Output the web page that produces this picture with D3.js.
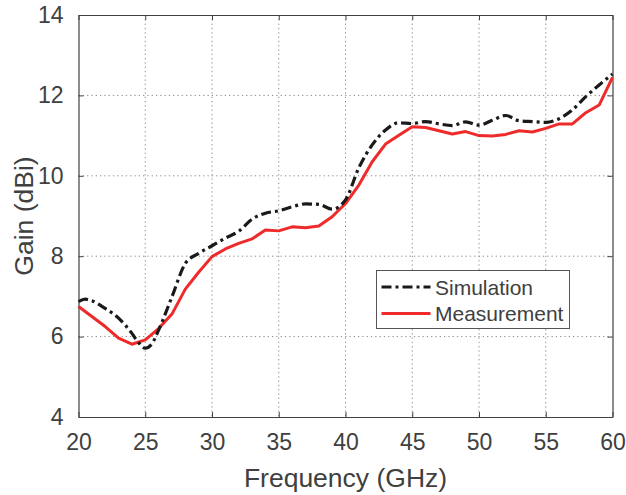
<!DOCTYPE html>
<html>
<head>
<meta charset="utf-8">
<script src="https://cdn.jsdelivr.net/npm/d3@7"></script>
<style>
  body { margin: 0; background: #fff; }
  text { font-family: "Liberation Sans", Arial, sans-serif; fill: #404040; }
</style>
</head>
<body>
<div id="chart"></div>
<script>
const svgWidth = 626;
const svgHeight = 495;

const margin = {top: 15, right: 13.5, bottom: 78, left: 78.5};
const width = svgWidth - margin.left - margin.right;
const height = svgHeight - margin.top - margin.bottom;

// data
const simFreq = [20, 20.5, 21, 22, 23, 24, 24.5, 25, 25.5, 26, 27, 28, 29, 30, 31, 32, 33, 34, 35, 36, 37, 38, 39, 40,
  41, 42, 43, 44, 45, 46, 47, 48, 49, 50, 51, 52, 53, 54, 55, 56, 57, 58, 59, 60];
const simGain = [6.87, 6.93, 6.89, 6.70, 6.46, 6.08, 5.85, 5.71, 5.82, 6.16, 6.99, 7.82, 8.07, 8.26, 8.45, 8.62, 8.92, 9.07, 9.13, 9.23, 9.30, 9.29, 9.17, 9.40,
  10.2, 10.77, 11.14, 11.32, 11.3, 11.35, 11.29, 11.25, 11.34, 11.26, 11.38, 11.5, 11.37, 11.35, 11.33, 11.42, 11.64, 11.97, 12.26, 12.53];

const measFreq = [20, 21, 22, 23, 24, 25, 26, 27, 28, 29, 30, 31, 32, 33, 34, 35, 36, 37, 38, 39, 40,
  41, 42, 43, 44, 45, 46, 47, 48, 49, 50, 51, 52, 53, 54, 55, 56, 57, 58, 59, 60];
const measGain = [6.75, 6.5, 6.25, 5.96, 5.81, 5.92, 6.2, 6.56, 7.18, 7.6, 7.99, 8.18, 8.32, 8.43, 8.65, 8.63, 8.73, 8.71, 8.75, 8.98, 9.31,
  9.77, 10.35, 10.79, 11.01, 11.22, 11.2, 11.12, 11.04, 11.1, 11.0, 10.99, 11.03, 11.12, 11.09, 11.18, 11.29, 11.29, 11.57, 11.76, 12.45];

const xTicks = [20, 25, 30, 35, 40, 45, 50, 55, 60];
const yTicks = [4, 6, 8, 10, 12, 14];
const seriesNames = ['Simulation', 'Measurement'];

const svg = d3.select('#chart')
              .append('svg')
              .attr('width', svgWidth)
              .attr('height', svgHeight);

const chartGroup = svg.append('g')
    .attr('transform', `translate(${margin.left}, ${margin.top})`);

const x = d3.scaleLinear().domain([20, 60]).range([0, width]);
const y = d3.scaleLinear().domain([4, 14]).range([height, 0]);

// grid
chartGroup.append('g')
    .selectAll('line')
    .data(xTicks.slice(1, -1))
    .join('line')
    .attr('x1', d => x(d)).attr('x2', d => x(d))
    .attr('y1', 0).attr('y2', height)
    .attr('stroke', '#8c8c8c')
    .attr('stroke-width', 1)
    .attr('stroke-dasharray', '1.3,3');

chartGroup.append('g')
    .selectAll('line')
    .data(yTicks.slice(1, -1))
    .join('line')
    .attr('x1', 0).attr('x2', width)
    .attr('y1', d => y(d)).attr('y2', d => y(d))
    .attr('stroke', '#8c8c8c')
    .attr('stroke-width', 1)
    .attr('stroke-dasharray', '1.3,3');

// axes (ticks inward, box on)
const styleAxis = function(g) {
  g.select('.domain').attr('stroke', '#404040').attr('stroke-width', 1.2);
  g.selectAll('.tick line').attr('stroke', '#404040').attr('stroke-width', 1);
  g.selectAll('text').style('font-size', '23px').attr('fill', '#404040');
};

chartGroup.append('g')
    .attr('transform', `translate(0, ${height})`)
    .call(d3.axisBottom(x).tickValues(xTicks).tickSize(-5).tickPadding(17).tickSizeOuter(0))
    .call(styleAxis);

chartGroup.append('g')
    .call(d3.axisTop(x).tickValues(xTicks).tickSize(-5).tickFormat('').tickSizeOuter(0))
    .call(styleAxis);

chartGroup.append('g')
    .call(d3.axisLeft(y).tickValues(yTicks).tickSize(-5).tickPadding(15).tickSizeOuter(0))
    .call(styleAxis);

chartGroup.append('g')
    .attr('transform', `translate(${width}, 0)`)
    .call(d3.axisRight(y).tickValues(yTicks).tickSize(-5).tickFormat('').tickSizeOuter(0))
    .call(styleAxis);

// lines
const line = d3.line().x(d => x(d[0])).y(d => y(d[1]));

const simData = simFreq.map((f, i) => [f, simGain[i]]);
const measData = measFreq.map((f, i) => [f, measGain[i]]);

chartGroup.append('path')
    .datum(measData)
    .attr('d', line.curve(d3.curveLinear))
    .attr('fill', 'none')
    .attr('stroke', '#ee2a2a')
    .attr('stroke-width', 3)
    .attr('stroke-linejoin', 'round');

chartGroup.append('path')
    .datum(simData)
    .attr('d', d3.line().x(d => x(d[0])).y(d => y(d[1])).curve(d3.curveMonotoneX))
    .attr('fill', 'none')
    .attr('stroke', '#1a1a1a')
    .attr('stroke-width', 3.2)
    .attr('stroke-dasharray', '10,4,3,4');

// axis labels
svg.append('text')
    .attr('x', margin.left + width / 2)
    .attr('y', 487)
    .attr('text-anchor', 'middle')
    .style('font-size', '26.5px')
    .text('Frequency (GHz)');

svg.append('text')
    .attr('transform', `translate(33, ${margin.top + height / 2}) rotate(-90)`)
    .attr('text-anchor', 'middle')
    .style('font-size', '26.5px')
    .text('Gain (dBi)');

// legend
const legend = svg.append('g').attr('transform', 'translate(376.5, 270.5)');
legend.append('rect')
    .attr('width', 193)
    .attr('height', 58)
    .attr('fill', '#fff')
    .attr('stroke', '#555')
    .attr('stroke-width', 1);

const legendStyles = [
  {color: '#1a1a1a', dash: '10,4,3,4'},
  {color: '#ee2a2a', dash: null}
];

legend.selectAll('line')
    .data(seriesNames)
    .join('line')
    .attr('x1', 5).attr('x2', 54)
    .attr('y1', (d, i) => 16.5 + i * 26.5)
    .attr('y2', (d, i) => 16.5 + i * 26.5)
    .attr('stroke', (d, i) => legendStyles[i].color)
    .attr('stroke-width', 3)
    .attr('stroke-dasharray', (d, i) => legendStyles[i].dash);

legend.selectAll('text')
    .data(seriesNames)
    .join('text')
    .attr('x', 58.5)
    .attr('y', (d, i) => 24 + i * 26.5)
    .style('font-size', '21px')
    .attr('fill', '#222')
    .text(d => d);
</script>
</body>
</html>
